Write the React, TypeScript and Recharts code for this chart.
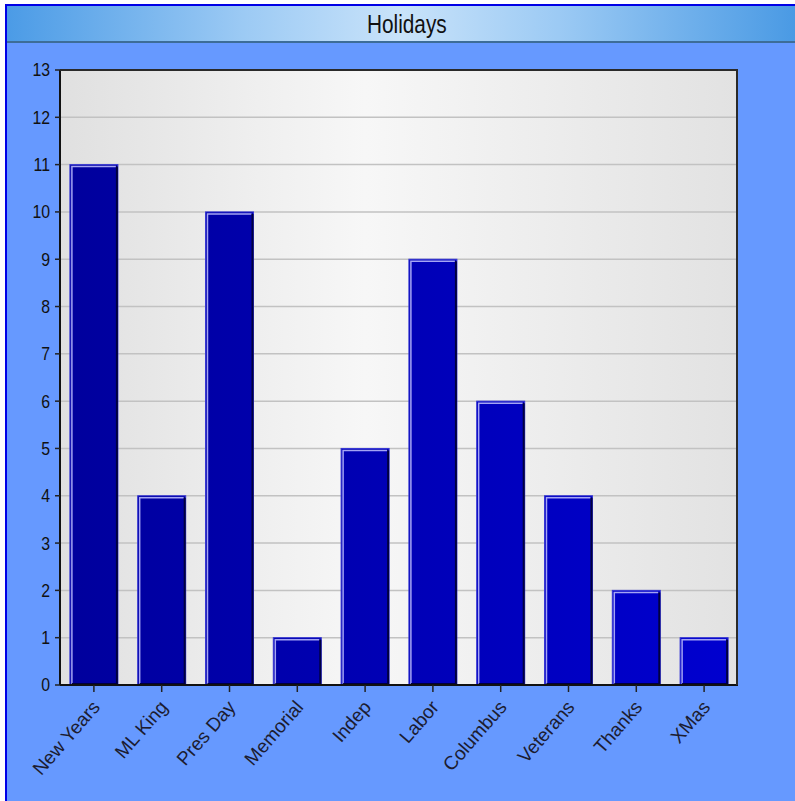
import { BarChart, Bar, XAxis, YAxis, CartesianGrid } from "recharts";

const holidays = ["New Years", "ML King", "Pres Day", "Memorial", "Indep", "Labor", "Columbus", "Veterans", "Thanks", "XMas"];
const counts = [11, 4, 10, 1, 5, 9, 6, 4, 2, 1];
const yTicks = [0, 1, 2, 3, 4, 5, 6, 7, 8, 9, 10, 11, 12, 13];

const data = holidays.map((name, i) => ({ name, count: counts[i] }));

const font = '"Liberation Sans", Arial, sans-serif';

const BevelBar = (props: any) => {
  const { x, y, width, height, fill } = props;
  if (!height) return null;
  return (
    <g>
      <rect x={x} y={y} width={width} height={height} fill={fill} stroke="#3636d4" strokeWidth={1} />
      <polyline
        points={`${x + 2},${y + height} ${x + 2},${y + 2} ${x + width - 2},${y + 2}`}
        stroke="#a4a4f4"
        strokeWidth={1.5}
        fill="none"
      />
      <polyline
        points={`${x + width - 1},${y + 2} ${x + width - 1},${y + height - 1} ${x + 2},${y + height - 1}`}
        stroke="#000040"
        strokeWidth={2}
        fill="none"
      />
    </g>
  );
};

const XTick = ({ x, y, payload }: any) => (
  <g transform={`translate(${x - 3},${y + 5})`}>
    <text
      x={0}
      y={0}
      dy="0.7em"
      textAnchor="end"
      transform="rotate(-49)"
      fontSize={19}
      fontFamily={font}
      fill="#1c1c30"
    >
      {payload.value}
    </text>
  </g>
);

const YTick = ({ x, y, payload }: any) => (
  <text
    x={x - 3}
    y={y}
    dy="0.36em"
    textAnchor="end"
    fontSize={18}
    fontFamily={font}
    fill="#111"
    transform={`translate(${(x - 3) * 0.12},0) scale(0.88,1)`}
  >
    {payload.value}
  </text>
);

export default function App() {
  return (
    <div style={{ position: "absolute", left: 0, top: 0, width: 795, height: 801, background: "#fff", overflow: "hidden" }}>
      <div
        style={{
          position: "absolute",
          left: 5,
          top: 4,
          width: 800,
          height: 810,
          background: "#6699ff",
          borderLeft: "2px solid #0000e6",
          borderTop: "2px solid #0000e6",
        }}
      />
      <div
        style={{
          position: "absolute",
          left: 7,
          top: 6,
          width: 788,
          height: 37,
          background: "linear-gradient(to right, #4b9be6 0%, #9ccaf4 30%, #c9e3fa 50%, #9ccaf4 70%, #4a9ae4 100%)",
          borderBottom: "2px solid #3d6d98",
          textAlign: "center",
          lineHeight: "37px",
          fontFamily: font,
          fontSize: 26,
          color: "#111",
          paddingLeft: 12,
          boxSizing: "border-box",
        }}
      >
        <span style={{ display: "inline-block", transform: "scaleX(0.8)" }}>Holidays</span>
      </div>
      <div style={{ position: "absolute", left: 0, top: 0 }}>
        <BarChart
          width={795}
          height={801}
          data={data}
          margin={{ top: 70, right: 57, left: 0, bottom: 16 }}
          barCategoryGap="14.6%"
        >
          <defs>
            <linearGradient id="plotBg" x1="0" y1="0" x2="1" y2="0">
              <stop offset="0%" stopColor="#e0e0e0" />
              <stop offset="45%" stopColor="#f7f7f7" />
              <stop offset="100%" stopColor="#e2e2e2" />
            </linearGradient>
            <linearGradient id="barFill" gradientUnits="userSpaceOnUse" x1="60" y1="0" x2="738" y2="0">
              <stop offset="0%" stopColor="#00009c" />
              <stop offset="100%" stopColor="#0000d0" />
            </linearGradient>
          </defs>
          <CartesianGrid vertical={false} stroke="#c2c2c2" strokeWidth={1.5} fill="url(#plotBg)" fillOpacity={1} />
          <XAxis
            dataKey="name"
            height={100}
            interval={0}
            tick={<XTick />}
            tickSize={7}
            axisLine={{ stroke: "#111", strokeWidth: 2 }}
            tickLine={{ stroke: "#222", strokeWidth: 1.5 }}
          />
          <YAxis
            width={60}
            domain={[0, 13]}
            ticks={yTicks}
            interval={0}
            tickSize={5}
            axisLine={{ stroke: "#111", strokeWidth: 2 }}
            tickLine={{ stroke: "#222", strokeWidth: 1.5 }}
            tick={<YTick />}
          />
          <Bar dataKey="count" fill="url(#barFill)" shape={<BevelBar />} isAnimationActive={false} />
        </BarChart>
      </div>
      <div
        style={{
          position: "absolute",
          left: 60,
          top: 69,
          width: 678,
          height: 616,
          borderTop: "2px solid #2a2a2a",
          borderRight: "2px solid #2a2a2a",
          boxSizing: "border-box",
          pointerEvents: "none",
        }}
      />
    </div>
  );
}
